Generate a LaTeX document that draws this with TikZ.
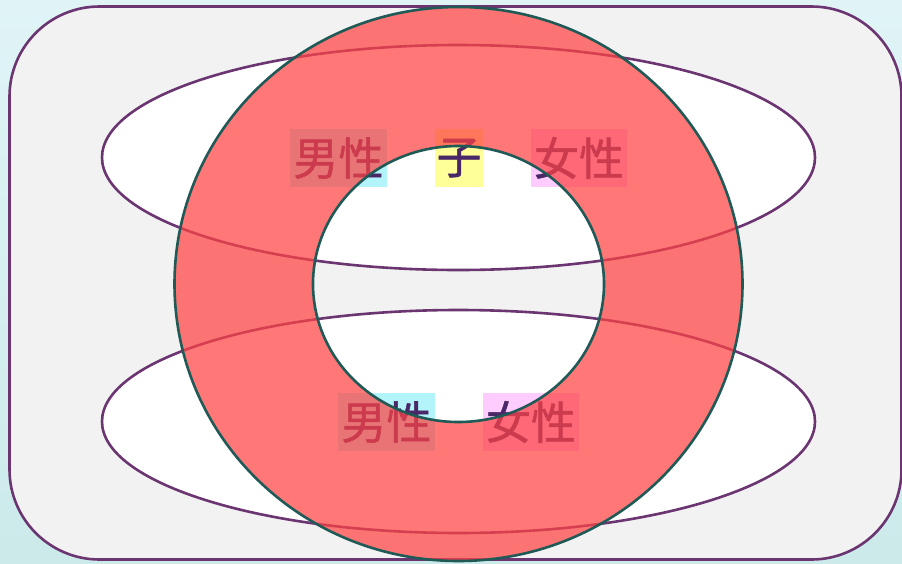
\documentclass[tikz,border=0pt]{standalone}
\usepackage{fontspec}
\newfontfamily\cjk[BoldFont={Noto Sans CJK SC},BoldFeatures={FakeBold=1.2}]{Noto Sans CJK SC}
\definecolor{bordp}{HTML}{6A3570}
\definecolor{ringst}{HTML}{1F5A57}
\definecolor{ringf}{HTML}{FF4343}
\definecolor{txtp}{HTML}{4A2868}
\definecolor{cyanb}{HTML}{B3F3FA}
\definecolor{yelb}{HTML}{FFFF99}
\definecolor{pinkb}{HTML}{FFCCFF}
\definecolor{panel}{HTML}{F2F2F2}
\tikzset{
  lab/.style={inner sep=0pt, minimum height=58pt, font=\cjk\bfseries\fontsize{45}{47}\selectfont, text=txtp},
  setell/.style={draw=bordp, line width=2.6pt, fill=white},
}
\begin{document}
\begin{tikzpicture}[x=1pt,y=-1pt]
\useasboundingbox (0,0) rectangle (902,563);
\shade[top color={rgb,255:red,224;green,244;blue,246}, bottom color={rgb,255:red,204;green,234;blue,234}] (0,0) rectangle (902,563);
\draw[draw=bordp, line width=2.6pt, fill=panel, rounded corners=90pt] (9.5,6.5) rectangle (901.5,559.5);
\draw[setell] (458.5,157.5) ellipse [x radius=356.5, y radius=112.5];
\draw[setell] (458.5,421.5) ellipse [x radius=356.5, y radius=111.5];
\node[lab, fill=cyanb, minimum width=97pt] (m1) at (338.5,158) {男性};
\node[lab, fill=yelb, minimum width=48pt] (c1) at (459,158) {子};
\node[lab, fill=pinkb, minimum width=96pt] (f1) at (579,158) {女性};
\node[lab, fill=cyanb, minimum width=97pt] (m2) at (386.5,422) {男性};
\node[lab, fill=pinkb, minimum width=96pt] (f2) at (531,422) {女性};
\fill[ringf, fill opacity=0.72, even odd rule] (458.5,284) ellipse [x radius=284, y radius=277] (458.5,284) ellipse [x radius=145.5, y radius=138];
\draw[ringst, line width=2.6pt] (458.5,284) ellipse [x radius=284, y radius=277];
\draw[ringst, line width=2.6pt] (458.5,284) ellipse [x radius=145.5, y radius=138];
\end{tikzpicture}
\end{document}
